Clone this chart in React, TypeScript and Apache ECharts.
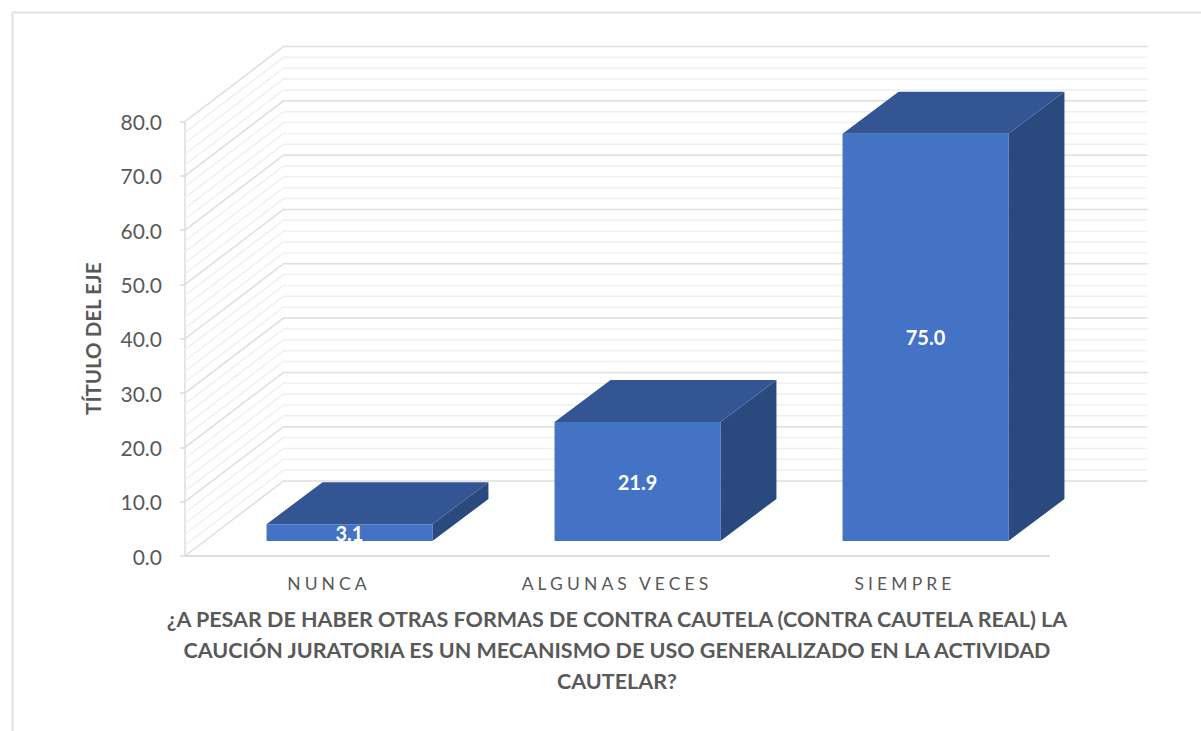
import React, { useEffect, useRef } from "react";
import * as echarts from "echarts";

const categories = ["NUNCA", "ALGUNAS VECES", "SIEMPRE"];
const values = [3.1, 21.9, 75.0];
const majorTicks = [0, 10, 20, 30, 40, 50, 60, 70, 80];
const minorTicks = [
  2, 4, 6, 8, 12, 14, 16, 18, 22, 24, 26, 28, 32, 34, 36, 38,
  42, 44, 46, 48, 52, 54, 56, 58, 62, 64, 66, 68, 72, 74, 76, 78,
];
const yAxisTitle = "TÍTULO DEL EJE";
const xAxisTitle =
  "¿A PESAR DE HABER OTRAS FORMAS DE CONTRA CAUTELA (CONTRA CAUTELA REAL) LA\nCAUCIÓN JURATORIA ES UN MECANISMO DE USO GENERALIZADO EN LA ACTIVIDAD\nCAUTELAR?";

const FONT = "Lato, 'Open Sans', sans-serif";
const TEXT = "#595959";
const WALL_DX = 98.5;
const WALL_DY = -75;
const BAR_DX = 20.5;
const BAR_DY = -15;
const BAR_DEPTH_X = 56;
const BAR_DEPTH_Y = -42;
const BAR_RATIO = 0.576;

function wallLine(color: string, width: number) {
  return (params: any, api: any) => {
    const cs = params.coordSys;
    const y = api.coord([0, api.value(1)])[1];
    return {
      type: "polyline",
      shape: {
        points: [
          [cs.x, y],
          [cs.x + WALL_DX, y + WALL_DY],
          [cs.x + cs.width + WALL_DX, y + WALL_DY],
        ],
      },
      style: { stroke: color, lineWidth: width, fill: "none" },
      silent: true,
    };
  };
}

function renderBar(_: any, api: any) {
  const [cx, top] = api.coord([api.value(0), api.value(1)]);
  const base = api.coord([api.value(0), 0])[1];
  const w = api.size([1, 0])[0] * BAR_RATIO;
  const l = cx + BAR_DX - w / 2;
  const r = l + w;
  const t = top + BAR_DY;
  const b = base + BAR_DY;
  return {
    type: "group",
    children: [
      {
        type: "polygon",
        shape: { points: [[r, t], [r + BAR_DEPTH_X, t + BAR_DEPTH_Y], [r + BAR_DEPTH_X, b + BAR_DEPTH_Y], [r, b]] },
        style: { fill: "#2a4a7f" },
      },
      {
        type: "polygon",
        shape: { points: [[l, t], [l + BAR_DEPTH_X, t + BAR_DEPTH_Y], [r + BAR_DEPTH_X, t + BAR_DEPTH_Y], [r, t]] },
        style: { fill: "#335593" },
      },
      {
        type: "rect",
        shape: { x: l, y: t, width: w, height: b - t },
        style: { fill: "#4472c4" },
      },
      {
        type: "text",
        style: {
          text: api.value(1).toFixed(1),
          x: cx + BAR_DX,
          y: (t + b) / 2,
          align: "center",
          verticalAlign: "middle",
          fill: "#ffffff",
          font: `bold 20px ${FONT}`,
        },
      },
    ],
  };
}

export default function App() {
  const ref = useRef<HTMLDivElement>(null);
  useEffect(() => {
    const el = ref.current!;
    const chart = echarts.init(el, null, { renderer: "svg" });
    const space = () => {
      el.querySelectorAll("text").forEach((t) => {
        if (categories.includes((t.textContent || "").trim())) {
          t.style.letterSpacing = "4.1px";
        }
      });
    };
    chart.on("rendered", space);
    chart.setOption({
      animation: false,
      backgroundColor: "#ffffff",
      grid: { left: 185, right: 152, top: 121.5, height: 434.5, containLabel: false },
      graphic: [
        {
          type: "polyline",
          shape: { points: [[12.5, 731], [12.5, 12.5], [1201, 12.5]] },
          style: { stroke: "#e2e2e2", lineWidth: 2, fill: "none" },
          silent: true,
          z: 0,
        },
      ],
      xAxis: {
        type: "category",
        data: categories,
        axisLine: { lineStyle: { color: "#dcdcdc", width: 2 } },
        axisTick: { show: false },
        axisLabel: { color: TEXT, fontFamily: FONT, fontSize: 17.5, margin: 18 },
        name: xAxisTitle,
        nameLocation: "middle",
        nameGap: 47,
        nameTextStyle: {
          color: TEXT,
          fontFamily: FONT,
          fontSize: 21.5,
          fontWeight: "bold",
          lineHeight: 31,
          align: "center",
          verticalAlign: "top",
        },
      },
      yAxis: {
        type: "value",
        min: 0,
        max: 80,
        interval: 10,
        splitLine: { show: false },
        axisLine: { show: true, lineStyle: { color: "#dcdcdc", width: 1.5 } },
        axisTick: { show: true, length: 5, lineStyle: { color: "#dcdcdc", width: 1.5 } },
        axisLabel: {
          color: TEXT,
          fontFamily: FONT,
          fontSize: 21,
          margin: 23,
          formatter: (v: number) => v.toFixed(1),
        },
        name: yAxisTitle,
        nameLocation: "middle",
        nameGap: 82,
        nameTextStyle: { color: TEXT, fontFamily: FONT, fontSize: 20.5, fontWeight: "bold" },
      },
      series: [
        {
          type: "custom",
          name: "minor",
          renderItem: wallLine("#f0f0f0", 1.5),
          data: minorTicks.map((v) => [0, v]),
          encode: { x: 0, y: 1 },
          silent: true,
          clip: false,
          z: 1,
        },
        {
          type: "custom",
          name: "major",
          renderItem: wallLine("#dedede", 1.5),
          data: majorTicks.map((v) => [0, v]),
          encode: { x: 0, y: 1 },
          silent: true,
          clip: false,
          z: 2,
        },
        {
          type: "custom",
          name: "values",
          renderItem: renderBar,
          data: values.map((v, i) => [i, v]),
          encode: { x: 0, y: 1 },
          clip: false,
          z: 3,
        },
      ],
    });
    space();
    return () => chart.dispose();
  }, []);
  return <div ref={ref} style={{ position: "fixed", left: 0, top: 0, width: 1201, height: 731 }} />;
}
